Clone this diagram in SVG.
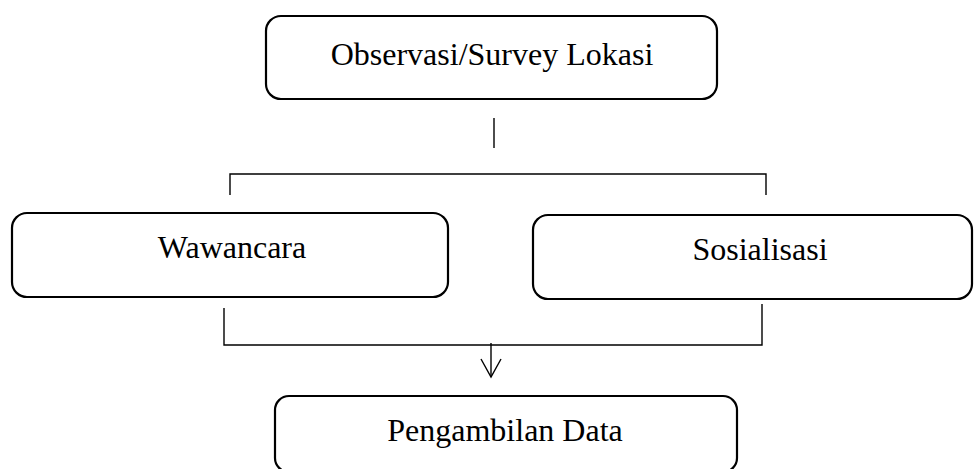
<svg xmlns="http://www.w3.org/2000/svg" width="974" height="469" viewBox="0 0 974 469">
<style>
.box{fill:#fff;stroke:#000;stroke-width:2.2}
.lbl{font-family:"Liberation Serif","Times New Roman",serif;font-size:32px;fill:#000;text-anchor:middle}
.ln{fill:none;stroke:#000;stroke-width:1.4}
</style>
<rect width="974" height="469" fill="#fff"/>
<g id="node-observasi">
<rect class="box" x="266" y="16" width="451" height="83" rx="15"/>
<text class="lbl" x="492" y="65">Observasi/Survey Lokasi</text>
</g>
<g id="node-wawancara">
<rect class="box" x="12" y="213" width="436" height="84" rx="15"/>
<text class="lbl" x="232" y="258">Wawancara</text>
</g>
<g id="node-sosialisasi">
<rect class="box" x="533" y="215" width="439" height="84" rx="15"/>
<text class="lbl" x="760" y="260">Sosialisasi</text>
</g>
<g id="node-pengambilan">
<rect class="box" x="275" y="396" width="462" height="76" rx="14"/>
<text class="lbl" x="505" y="441">Pengambilan Data</text>
</g>
<g id="connectors">
<line class="ln" x1="494" y1="118" x2="494" y2="148"/>
<polyline class="ln" points="230,195 230,174 766,174 766,195"/>
<polyline class="ln" points="224,308 224,345 762,345 762,304"/>
<line class="ln" x1="491" y1="343" x2="491" y2="377"/>
<polyline class="ln" points="481,359 491,377 501,359"/>
</g>
</svg>
